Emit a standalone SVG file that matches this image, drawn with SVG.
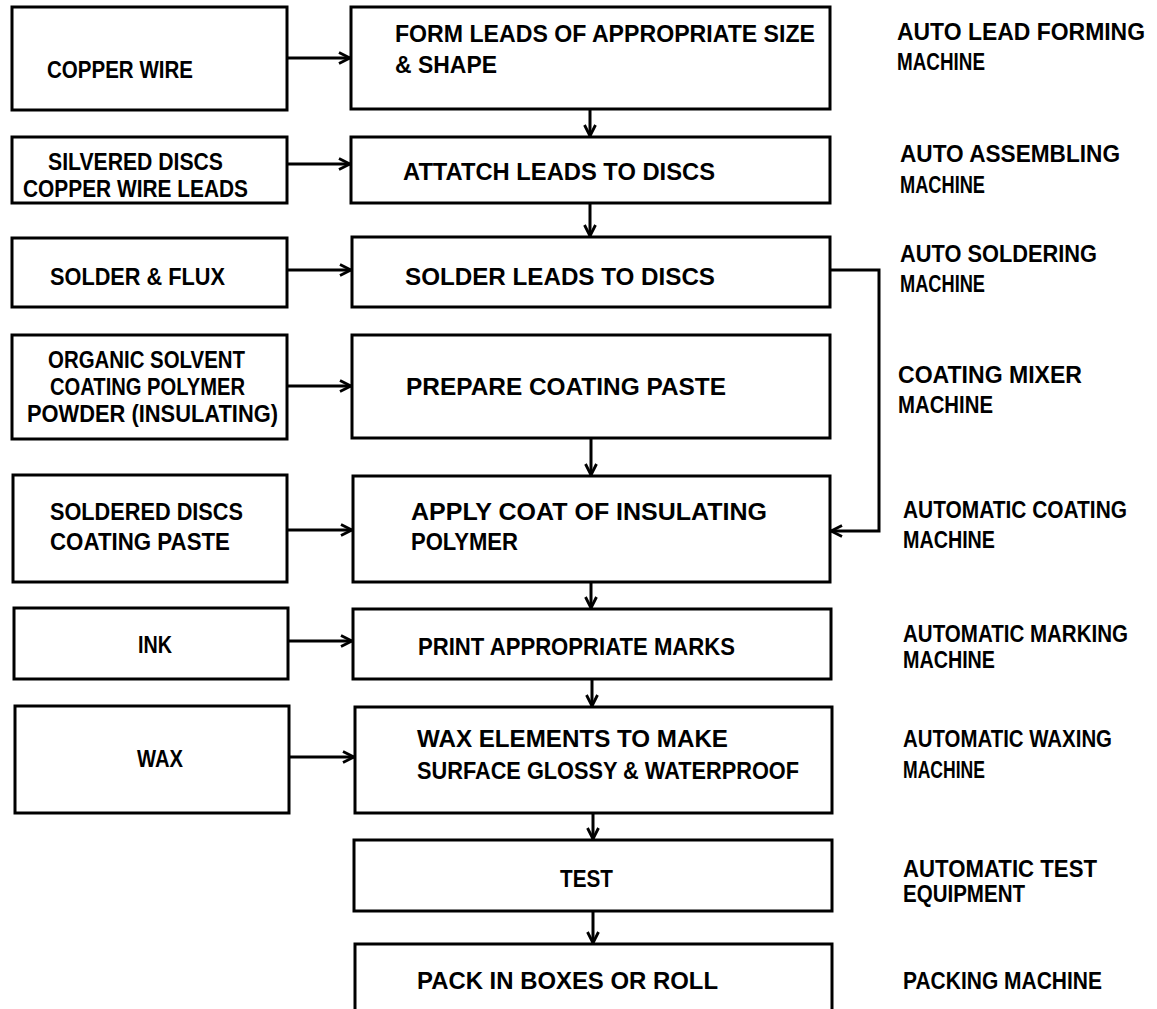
<svg xmlns="http://www.w3.org/2000/svg" width="1157" height="1009" viewBox="0 0 1157 1009">
<style>
rect.box{fill:#fff;stroke:#000;stroke-width:3}
text{font-family:"Liberation Sans Narrow","Liberation Sans",Arial,sans-serif;font-size:23px;font-weight:bold;fill:#000}
.conn path{fill:none;stroke:#000;stroke-width:3}
</style>
<defs>
<marker id="arr" markerUnits="userSpaceOnUse" markerWidth="14" markerHeight="14" viewBox="0 0 14 14" refX="13" refY="7" orient="auto">
<path d="M2,1.5 L13,7 L2,12.5" fill="none" stroke="#000" stroke-width="2.8"/>
</marker>
</defs>
<rect width="1157" height="1009" fill="#fff"/>

<g id="in-copper-wire"><rect class="box" x="12" y="7" width="275" height="103"/>
<text x="47" y="78" textLength="146" lengthAdjust="spacingAndGlyphs">COPPER WIRE</text></g>
<g id="in-silvered-discs"><rect class="box" x="12" y="137" width="275" height="66"/>
<text x="48" y="170" textLength="175" lengthAdjust="spacingAndGlyphs">SILVERED DISCS</text>
<text x="23" y="197" textLength="225" lengthAdjust="spacingAndGlyphs">COPPER WIRE LEADS</text></g>
<g id="in-solder-flux"><rect class="box" x="12" y="238" width="275" height="69"/>
<text x="50" y="285" textLength="175" lengthAdjust="spacingAndGlyphs">SOLDER &amp; FLUX</text></g>
<g id="in-organic"><rect class="box" x="12" y="335" width="275" height="104"/>
<text x="48" y="368" textLength="197" lengthAdjust="spacingAndGlyphs">ORGANIC SOLVENT</text>
<text x="50" y="395" textLength="195" lengthAdjust="spacingAndGlyphs">COATING POLYMER</text>
<text x="27" y="422" textLength="251" lengthAdjust="spacingAndGlyphs">POWDER (INSULATING)</text></g>
<g id="in-soldered-discs"><rect class="box" x="13" y="475" width="274" height="107"/>
<text x="50" y="520" textLength="193" lengthAdjust="spacingAndGlyphs">SOLDERED DISCS</text>
<text x="50" y="550" textLength="180" lengthAdjust="spacingAndGlyphs">COATING PASTE</text></g>
<g id="in-ink"><rect class="box" x="14" y="608" width="274" height="71"/>
<text x="138" y="653" textLength="34" lengthAdjust="spacingAndGlyphs">INK</text></g>
<g id="in-wax"><rect class="box" x="15" y="706" width="274" height="107"/>
<text x="137" y="767" textLength="46" lengthAdjust="spacingAndGlyphs">WAX</text></g>

<g id="p-form-leads"><rect class="box" x="351" y="7" width="479" height="102"/>
<text x="395" y="42" textLength="420" lengthAdjust="spacingAndGlyphs">FORM LEADS OF APPROPRIATE SIZE</text>
<text x="395" y="73" textLength="102" lengthAdjust="spacingAndGlyphs">&amp; SHAPE</text></g>
<g id="p-attach"><rect class="box" x="351" y="137" width="479" height="66"/>
<text x="403" y="180" textLength="312" lengthAdjust="spacingAndGlyphs">ATTATCH LEADS TO DISCS</text></g>
<g id="p-solder"><rect class="box" x="352" y="237" width="478" height="70"/>
<text x="405" y="285" textLength="310" lengthAdjust="spacingAndGlyphs">SOLDER LEADS TO DISCS</text></g>
<g id="p-prepare"><rect class="box" x="352" y="335" width="478" height="103"/>
<text x="406" y="395" textLength="320" lengthAdjust="spacingAndGlyphs">PREPARE COATING PASTE</text></g>
<g id="p-apply"><rect class="box" x="353" y="476" width="477" height="106"/>
<text x="411" y="520" textLength="356" lengthAdjust="spacingAndGlyphs">APPLY COAT OF INSULATING</text>
<text x="411" y="550" textLength="107" lengthAdjust="spacingAndGlyphs">POLYMER</text></g>
<g id="p-print"><rect class="box" x="353" y="609" width="478" height="70"/>
<text x="418" y="655" textLength="317" lengthAdjust="spacingAndGlyphs">PRINT APPROPRIATE MARKS</text></g>
<g id="p-wax"><rect class="box" x="355" y="707" width="477" height="106"/>
<text x="417" y="747" textLength="311" lengthAdjust="spacingAndGlyphs">WAX ELEMENTS TO MAKE</text>
<text x="417" y="779" textLength="382" lengthAdjust="spacingAndGlyphs">SURFACE GLOSSY &amp; WATERPROOF</text></g>
<g id="p-test"><rect class="box" x="354" y="840" width="478" height="71"/>
<text x="560" y="887" textLength="53" lengthAdjust="spacingAndGlyphs">TEST</text></g>
<g id="p-pack"><rect class="box" x="355" y="944" width="477" height="90"/>
<text x="417" y="989" textLength="301" lengthAdjust="spacingAndGlyphs">PACK IN BOXES OR ROLL</text></g>

<g id="machines">
<g id="m-lead-forming"><text x="897" y="40" textLength="248" lengthAdjust="spacingAndGlyphs">AUTO LEAD FORMING</text><text x="897" y="70" textLength="88" lengthAdjust="spacingAndGlyphs">MACHINE</text></g>
<g id="m-assembling"><text x="900" y="162" textLength="220" lengthAdjust="spacingAndGlyphs">AUTO ASSEMBLING</text><text x="900" y="193" textLength="85" lengthAdjust="spacingAndGlyphs">MACHINE</text></g>
<g id="m-soldering"><text x="900" y="262" textLength="197" lengthAdjust="spacingAndGlyphs">AUTO SOLDERING</text><text x="900" y="292" textLength="85" lengthAdjust="spacingAndGlyphs">MACHINE</text></g>
<g id="m-mixer"><text x="898" y="383" textLength="184" lengthAdjust="spacingAndGlyphs">COATING MIXER</text><text x="898" y="413" textLength="95" lengthAdjust="spacingAndGlyphs">MACHINE</text></g>
<g id="m-coating"><text x="903" y="518" textLength="224" lengthAdjust="spacingAndGlyphs">AUTOMATIC COATING</text><text x="903" y="548" textLength="92" lengthAdjust="spacingAndGlyphs">MACHINE</text></g>
<g id="m-marking"><text x="903" y="642" textLength="225" lengthAdjust="spacingAndGlyphs">AUTOMATIC MARKING</text><text x="903" y="668" textLength="92" lengthAdjust="spacingAndGlyphs">MACHINE</text></g>
<g id="m-waxing"><text x="903" y="747" textLength="209" lengthAdjust="spacingAndGlyphs">AUTOMATIC WAXING</text><text x="903" y="778" textLength="82" lengthAdjust="spacingAndGlyphs">MACHINE</text></g>
<g id="m-test"><text x="903" y="877" textLength="194" lengthAdjust="spacingAndGlyphs">AUTOMATIC TEST</text><text x="903" y="902" textLength="122" lengthAdjust="spacingAndGlyphs">EQUIPMENT</text></g>
<g id="m-packing"><text x="903" y="989" textLength="199" lengthAdjust="spacingAndGlyphs">PACKING MACHINE</text></g>
</g>

<g id="connectors" class="conn">
<path d="M287,58 H350" marker-end="url(#arr)"/>
<path d="M287,164 H350" marker-end="url(#arr)"/>
<path d="M287,270 H351" marker-end="url(#arr)"/>
<path d="M287,386 H351" marker-end="url(#arr)"/>
<path d="M287,530 H352" marker-end="url(#arr)"/>
<path d="M288,641 H352" marker-end="url(#arr)"/>
<path d="M289,757 H354" marker-end="url(#arr)"/>
<path d="M590,109 V136" marker-end="url(#arr)"/>
<path d="M590,203 V236" marker-end="url(#arr)"/>
<path d="M591,438 V475" marker-end="url(#arr)"/>
<path d="M591,582 V608" marker-end="url(#arr)"/>
<path d="M592,679 V706" marker-end="url(#arr)"/>
<path d="M593,813 V839" marker-end="url(#arr)"/>
<path d="M593,911 V943" marker-end="url(#arr)"/>
<path d="M830,270 H879 V531 H831" marker-end="url(#arr)"/>
</g>
</svg>
